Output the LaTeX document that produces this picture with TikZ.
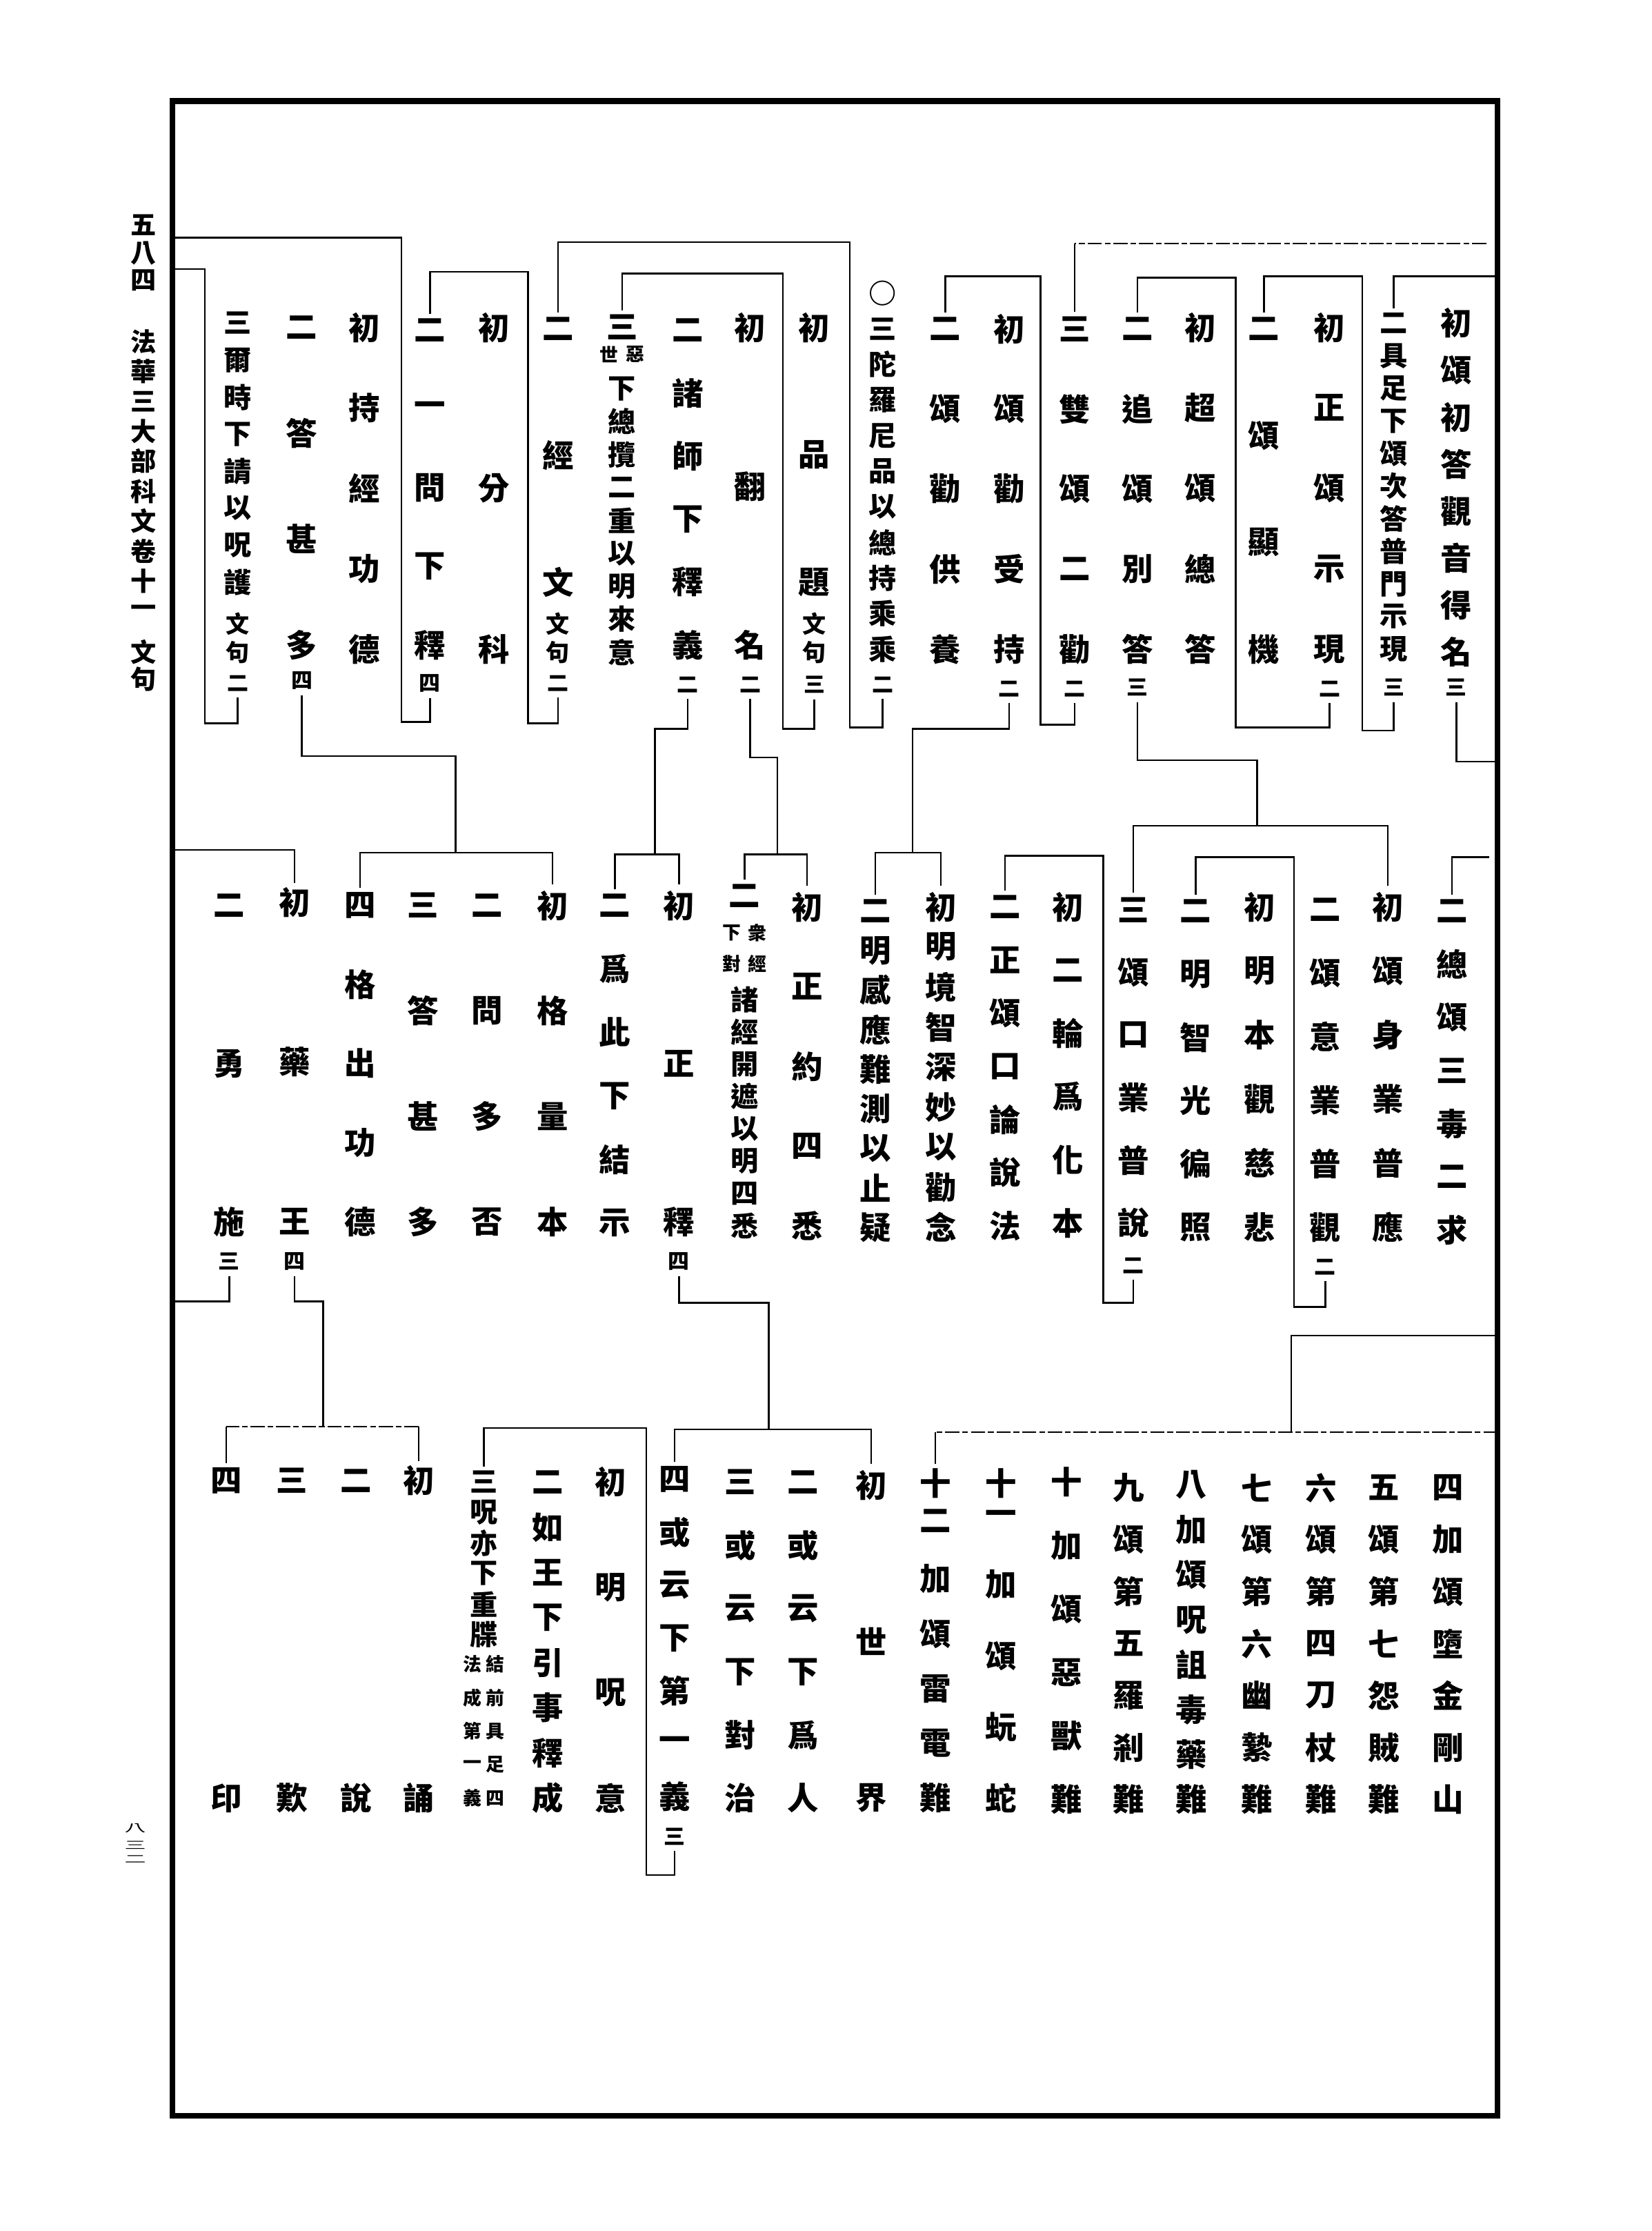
\documentclass[tikz,border=0pt]{standalone}
\usepackage{fontspec}
\setmainfont{Noto Sans CJK TC}
\usetikzlibrary{calc}

% one column of characters, spread evenly from the first to the last
\newcommand\kcol[6][kchar]{%
  \foreach \ch [count=\i] in {#6} {\xdef\kn{\i}}%
  \foreach \ch [count=\i] in {#6}
    \node[#1] (#2-\i) at ({#3}, {#4+(\i-1)*(#5-#4)/(\kn-1)}) {\ch};%
}

\begin{document}
\begin{tikzpicture}[x=1pt, y=-1pt,
    kchar/.style={inner sep=0pt, font=\fontsize{22}{22}\selectfont\bfseries},
    knarrow/.style={inner sep=0pt, font=\fontsize{19.5}{19.5}\selectfont\bfseries},
    kword/.style={inner sep=0pt, font=\fontsize{16.5}{16.5}\selectfont\bfseries},
    kcount/.style={inner sep=0pt, font=\fontsize{15}{15}\selectfont\bfseries},
    knote/.style={inner sep=0pt, font=\fontsize{13}{13}\selectfont\bfseries},
    khead/.style={inner sep=0pt, font=\fontsize{18}{18}\selectfont\bfseries},
    kline/.style={line width=1.2pt},
    kdash/.style={line width=1.1pt, dash pattern=on 10pt off 2pt on 4pt off 2pt},
    ktick/.style={kline, shorten >=3pt},
    kout/.style={kline, shorten <=4pt},
    kdrop/.style={kline, shorten <=4pt, shorten >=3pt},
    border/.style={line width=4pt}]

    \useasboundingbox (0,0) rectangle (1160,1567);

    % border
    \draw[border] (121,71) rectangle (1052,1486);

    % margin title and page number
    \foreach \ch/\yy [count=\i] in {五/158,八/178,四/197,法/240,華/261,三/282,大/303,部/324,科/345,文/366,卷/387,十/408,一/429,文/458,句/477}
    {
        \node[khead] (head-\i) at (101,\yy) {\ch};
    }
    \foreach \ch/\yy [count=\i] in {八/1284,三/1296,二/1306}
    {
        \node[inner sep=0pt, font=\fontsize{15}{15}\selectfont] (page-\i) at (95,\yy) {\scalebox{1}[0.5]{\ch}};
    }

    % top row
    \kcol{tdeming}{1023}{227}{458}{初,頌,初,答,觀,音,得,名}
    \node[kcount] (tdeming-c) at (1023,483) {三};
    \kcol[knarrow]{tjuzu}{979}{227}{456}{二,具,足,下,頌,次,答,普,門,示,現}
    \node[kcount] (tjuzu-c) at (979,483) {三};
    \kcol{tshixian}{934}{230}{456}{初,正,頌,示,現}
    \node[kcount] (tshixian-c) at (934,484) {二};
    \kcol{tjiji}{888}{231}{456}{二,頌,顯,機}
    \kcol{tzongda}{843}{230}{456}{初,超,頌,總,答}
    \kcol{tbieda}{799}{231}{456}{二,追,頌,別,答}
    \node[kcount] (tbieda-c) at (799,483) {三};
    \kcol{tshuangquan}{755}{231}{456}{三,雙,頌,二,勸}
    \node[kcount] (tshuangquan-c) at (755,484) {二};
    \kcol{tshouchi}{709}{231}{456}{初,頌,勸,受,持}
    \node[kcount] (tshouchi-c) at (709,484) {二};
    \kcol{tgongyang}{664}{231}{456}{二,頌,勸,供,養}
    \kcol[knarrow]{tzongchi}{620}{206}{456}{○,三,陀,羅,尼,品,以,總,持,乘,乘}
    \node[kcount] (tzongchi-c) at (620,481) {二};

    \kcol{tpinti}{572}{230}{409}{初,品,題}
    \node[kword] (tpinti-w1) at (572,438) {文};
    \node[kword] (tpinti-w2) at (572,458) {句};
    \node[kcount] (tpinti-c) at (572,481) {三};
    \kcol{tfanming}{527}{230}{453}{初,翻,名}
    \node[kcount] (tfanming-c) at (527,481) {二};
    \kcol{tshishi}{483}{232}{453}{二,諸,師,下,釋,義}
    \node[kcount] (tshishi-c) at (483,481) {二};
    \node[kchar] (taishi-1) at (437,230) {三};
    \node[knote] (taishi-n1) at (446,249) {惡};
    \node[knote] (taishi-n2) at (428,249) {世};
    \kcol[knarrow]{taishi-b}{437}{273}{458}{下,總,攬,二,重,以,明,來,意}
    \kcol{tjingwen}{392}{231}{409}{二,經,文}
    \node[kword] (tjingwen-w1) at (392,438) {文};
    \node[kword] (tjingwen-w2) at (392,458) {句};
    \node[kcount] (tjingwen-c) at (392,480) {二};
    \kcol{tfenke}{347}{230}{456}{初,分,科}
    \kcol{tyiwen}{302}{232}{453}{二,一,問,下,釋}
    \node[kcount] (tyiwen-c) at (302,480) {四};
    \kcol{tchijing}{256}{230}{456}{初,持,經,功,德}
    \kcol{tshenduo}{212}{230}{453}{二,答,甚,多}
    \node[kcount] (tshenduo-c) at (212,478) {四};
    \kcol[knarrow]{tershi}{167}{227}{409}{三,爾,時,下,請,以,呪,護}
    \node[kword] (tershi-w1) at (167,438) {文};
    \node[kword] (tershi-w2) at (167,458) {句};
    \node[kcount] (tershi-c) at (167,480) {二};

    % middle row
    \kcol{msanduo}{1020}{640}{864}{二,總,頌,三,毒,二,求}
    \kcol{mshenye}{975}{637}{862}{初,頌,身,業,普,應}
    \kcol{myiye}{931}{639}{862}{二,頌,意,業,普,觀}
    \node[kcount] (myiye-c) at (931,890) {二};
    \kcol{mbenguan}{885}{637}{862}{初,明,本,觀,慈,悲}
    \kcol{mzhiguang}{840}{640}{862}{二,明,智,光,徧,照}
    \kcol{mkouye}{796}{639}{859}{三,頌,口,業,普,說}
    \node[kcount] (mkouye-c) at (796,889) {二};
    \kcol{mhuaben}{750}{637}{859}{初,二,輪,爲,化,本}
    \kcol{mshuofa}{706}{637}{861}{二,正,頌,口,論,說,法}
    \kcol{mquannian}{661}{637}{862}{初,明,境,智,深,妙,以,勸,念}
    \kcol{mzhiyi}{615}{640}{862}{二,明,感,應,難,測,以,止,疑}
    \kcol{msixi}{567}{637}{861}{初,正,約,四,悉}
    \node[kchar] (mkaizhe-1) at (523,629) {二};
    \node[knote] (mkaizhe-n1) at (532,655) {衆};
    \node[knote] (mkaizhe-n2) at (532,677) {經};
    \node[knote] (mkaizhe-n3) at (514,655) {下};
    \node[knote] (mkaizhe-n4) at (514,677) {對};
    \kcol[knarrow]{mkaizhe-b}{523}{702}{861}{諸,經,開,遮,以,明,四,悉}
    \kcol{mzhengshi}{477}{636}{858}{初,正,釋}
    \node[kcount] (mzhengshi-c) at (477,886) {四};
    \kcol{mjieshi}{432}{636}{859}{二,爲,此,下,結,示}
    \kcol{mliangben}{388}{636}{858}{初,格,量,本}
    \kcol{mduofou}{342}{636}{858}{二,問,多,否}
    \kcol{mdaduo}{297}{636}{858}{三,答,甚,多}
    \kcol{mgongde}{253}{636}{858}{四,格,出,功,德}
    \kcol{myaowang}{207}{634}{858}{初,藥,王}
    \node[kcount] (myaowang-c) at (207,886) {四};
    \kcol{myongshi}{161}{636}{858}{二,勇,施}
    \node[kcount] (myongshi-c) at (161,886) {三};

    % bottom row
    \kcol{bjingang}{1017}{1045}{1264}{四,加,頌,墮,金,剛,山}
    \kcol{bzei}{972}{1045}{1264}{五,頌,第,七,怨,賊,難}
    \kcol{bdao}{928}{1045}{1264}{六,頌,第,四,刀,杖,難}
    \kcol{byou}{883}{1045}{1264}{七,頌,第,六,幽,縶,難}
    \kcol{bzhou}{837}{1043}{1264}{八,加,頌,呪,詛,毒,藥,難}
    \kcol{bluocha}{793}{1045}{1264}{九,頌,第,五,羅,剎,難}
    \kcol{bshou}{749}{1041}{1264}{十,加,頌,惡,獸,難}
    \kcol{bwanshe-a}{703}{1042}{1066}{十,一}
    \kcol{bwanshe}{703}{1113}{1263}{加,頌,蚖,蛇}
    \kcol{bleidian-a}{657}{1042}{1068}{十,二}
    \kcol{bleidian}{657}{1109}{1263}{加,頌,雷,電,難}
    \kcol{bshijie}{612}{1043}{1263}{初,世,界}
    \kcol{bweiren}{564}{1041}{1263}{二,或,云,下,爲,人}
    \kcol{bduizhi}{520}{1041}{1263}{三,或,云,下,對,治}
    \kcol{bdiyi}{474}{1039}{1262}{四,或,云,下,第,一,義}
    \node[kcount] (bdiyi-c) at (474,1290) {三};
    \kcol{bzhouyi}{429}{1041}{1263}{初,明,呪,意}
    \kcol{byinshi}{385}{1041}{1263}{二,如,王,下,引,事,釋,成}
    \kcol[knarrow]{bchongdie}{340}{1041}{1148}{三,呪,亦,下,重,牒}
    \kcol[knote]{bchongdie-r}{348}{1169}{1263}{結,前,具,足,四}
    \kcol[knote]{bchongdie-l}{332}{1169}{1263}{法,成,第,一,義}
    \kcol{bsong}{294}{1040}{1263}{初,誦}
    \kcol{bshuo}{250}{1040}{1263}{二,說}
    \kcol{btan}{205}{1040}{1263}{三,歎}
    \kcol{byin}{159}{1040}{1263}{四,印}

    % connectors, top row
    \draw[kdash] (1044,171) -- (tshuangquan-1.north |- 0,171);
    \draw[ktick] (tshuangquan-1.north |- 0,171) -- (tshuangquan-1.north);
    \draw[ktick] (1052,194) -| (tjuzu-1.north);
    \draw[kout] (tdeming-c.south) |- (1052,535);
    \draw[kdrop] (tjuzu-c.south) |- (957,513) |- (tjiji-1.north |- 0,194) -- (tjiji-1.north);
    \draw[kdrop] (tshixian-c.south) |- (868,511) |- (tbieda-1.north |- 0,195) -- (tbieda-1.north);
    \draw[kdrop] (tshuangquan-c.south) |- (731,509) |- (tgongyang-1.north |- 0,194) -- (tgongyang-1.north);
    \draw[kdrop] (tzongchi-c.south) |- (597,511) |- (tjingwen-1.north |- 0,170) -- (tjingwen-1.north);
    \draw[kdrop] (tpinti-c.south) |- (550,512) |- (taishi-1.north |- 0,192) -- (taishi-1.north);
    \draw[kdrop] (tjingwen-c.south) |- (371,508) |- (tyiwen-1.north |- 0,191) -- (tyiwen-1.north);
    \draw[kout] (tyiwen-c.south) |- (282,507) |- (121,167);
    \draw[kout] (tershi-c.south) |- (144,508) |- (121,189);

    % top row down to middle row
    \draw[kout] (tbieda-c.south) |- (883,534) -- (883,580);
    \draw[kdrop] (mshenye-1.north) -- (mshenye-1.north |- 0,580) -- (mkouye-1.north |- 0,580) -- (mkouye-1.north);
    \draw[kout] (tshouchi-c.south) |- (641,512) -- (641,599);
    \draw[kdrop] (mquannian-1.north) -- (mquannian-1.north |- 0,599) -- (mzhiyi-1.north |- 0,599) -- (mzhiyi-1.north);
    \draw[kout] (tfanming-c.south) |- (546,532) -- (546,600);
    \draw[kdrop] (msixi-1.north) -- (msixi-1.north |- 0,600) -- (mkaizhe-1.north |- 0,600) -- (mkaizhe-1.north);
    \draw[kout] (tshishi-c.south) |- (460,512) -- (460,600);
    \draw[kdrop] (mzhengshi-1.north) -- (mzhengshi-1.north |- 0,600) -- (mjieshi-1.north |- 0,600) -- (mjieshi-1.north);
    \draw[kout] (tshenduo-c.south) |- (320,531) -- (320,599);
    \draw[kdrop] (mliangben-1.north) -- (mliangben-1.north |- 0,599) -- (mgongde-1.north |- 0,599) -- (mgongde-1.north);

    % middle row
    \draw[ktick] (1046,602) -| (msanduo-1.north);
    \draw[kdrop] (myiye-c.south) |- (909,918) |- (mzhiguang-1.north |- 0,602) -- (mzhiguang-1.north);
    \draw[kdrop] (mkouye-c.south) |- (775,915) |- (mshuofa-1.north |- 0,601) -- (mshuofa-1.north);
    \draw[ktick] (121,597) -| (myaowang-1.north);
    \draw[kout] (myongshi-c.south) |- (121,914);

    % middle row down to bottom row
    \draw[kout] (mzhengshi-c.south) |- (540,915) -- (540,1004);
    \draw[kdrop] (bshijie-1.north) -- (bshijie-1.north |- 0,1004) -- (bdiyi-1.north |- 0,1004) -- (bdiyi-1.north);
    \draw[kout] (myaowang-c.south) |- (227,914) -- (227,1002);
    \draw[kdash] (bsong-1.north |- 0,1002) -- (byin-1.north |- 0,1002);
    \draw[ktick] (bsong-1.north |- 0,1002) -- (bsong-1.north);
    \draw[ktick] (byin-1.north |- 0,1002) -- (byin-1.north);
    \draw[kline] (1052,938) -| (907,1006);
    \draw[kdash] (1052,1006) -- (bleidian-a-1.north |- 0,1006);
    \draw[ktick] (bleidian-a-1.north |- 0,1006) -- (bleidian-a-1.north);

    % bottom row
    \draw[kdrop] (bdiyi-c.south) |- (454,1317) |- (bchongdie-1.north |- 0,1003) -- (bchongdie-1.north);
\end{tikzpicture}
\end{document}
